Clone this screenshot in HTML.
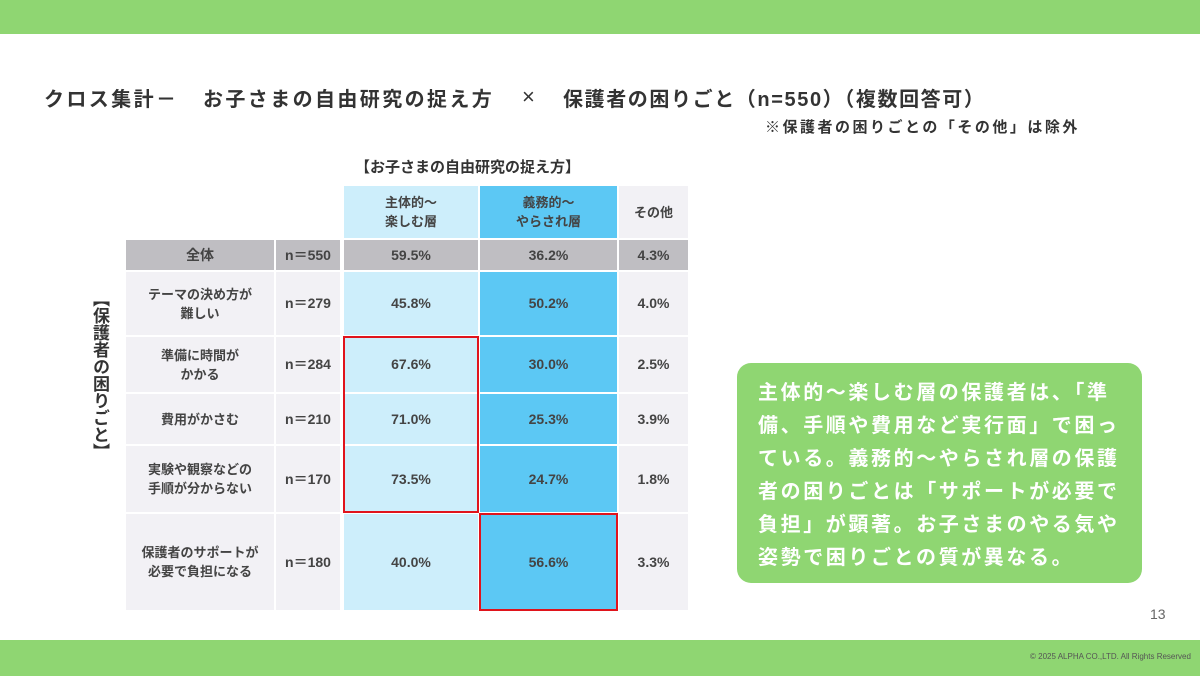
<!DOCTYPE html>
<html><head><meta charset="utf-8">
<style>
body{margin:0;width:1200px;height:676px;position:relative;background:#fff;overflow:hidden;font-family:"Liberation Sans","Noto Sans CJK JP",sans-serif;}
.abs{position:absolute;box-sizing:border-box;}
.cell{position:absolute;display:flex;align-items:center;justify-content:center;text-align:center;font-size:14px;font-weight:bold;color:#444;line-height:19px;}
.tt{position:absolute;top:83px;font-size:20px;font-weight:bold;color:#333;white-space:nowrap;letter-spacing:2.4px}
</style></head><body>
<div class="abs" style="left:0;top:0;width:1200px;height:34px;background:#8fd672"></div>
<div class="abs" style="left:0;top:640px;width:1200px;height:36px;background:#8fd672"></div>
<div class="abs" style="left:1030px;top:652px;font-size:8px;color:#555">© 2025 ALPHA CO.,LTD. All Rights Reserved</div>
<div class="abs" style="left:1150px;top:606px;font-size:14px;color:#666">13</div>
<div>
<span class="tt" style="left:44px">クロス集計－</span>
<span class="tt" style="left:203px">お子さまの自由研究の捉え方</span>
<span class="tt" style="left:522px;top:84px;font-family:'Liberation Sans',sans-serif;font-size:22px;font-weight:normal">×</span>
<span class="tt" style="left:563px;letter-spacing:1.6px">保護者の困りごと（n=550）（複数回答可）</span>
</div>
<div class="abs" style="left:765px;top:116px;font-size:15px;font-weight:bold;color:#333;letter-spacing:2.5px;white-space:nowrap">※保護者の困りごとの「その他」は除外</div>
<div class="abs" style="left:355px;top:156px;font-size:15px;font-weight:bold;color:#333">【お子さまの自由研究の捉え方】</div>
<div class="abs" style="left:88px;top:290px;width:24px;font-size:17px;font-weight:bold;color:#333;writing-mode:vertical-rl">【保護者の困りごと】</div>
<div id="tbl"></div>
<div class="abs" style="left:737px;top:363px;width:405px;height:220px;background:#8fd672;border-radius:14px;padding:14px 0 0 21px;color:#fff;font-size:20px;font-weight:bold;line-height:33px;letter-spacing:2.6px;white-space:nowrap">主体的〜楽しむ層の保護者は、「準<br>備、手順や費用など実行面」で困っ<br>ている。義務的〜やらされ層の保護<br>者の困りごとは「サポートが必要で<br>負担」が顕著。お子さまのやる気や<br>姿勢で困りごとの質が異なる。</div>
<script>
const headers=["主体的〜<br>楽しむ層","義務的〜<br>やらされ層","その他"];
const rowLabels=["全体","テーマの決め方が<br>難しい","準備に時間が<br>かかる","費用がかさむ","実験や観察などの<br>手順が分からない","保護者のサポートが<br>必要で負担になる"];
const nValues=[550,279,284,210,170,180];
const seriesActive=[59.5,45.8,67.6,71.0,73.5,40.0];
const seriesDuty=[36.2,50.2,30.0,25.3,24.7,56.6];
const seriesOther=[4.3,4.0,2.5,3.9,1.8,3.3];
const colX=[126,276,344,480,619], colW=[148,64,134,137,69];
const rowY=[240,272,337,394,446,514], rowH=[30,63,55,50,66,96];
const bg=["#f2f1f5","#f2f1f5","#cdeefb","#5cc8f4","#f2f1f5"];
const t=document.getElementById('tbl');
function cell(x,y,w,h,html,color,name){const d=document.createElement('div');d.className='cell';d.style.cssText=`left:${x}px;top:${y}px;width:${w}px;height:${h}px;background:${color}`;d.innerHTML=html;


t.appendChild(d);return d;}
headers.forEach((h,i)=>cell(colX[i+2],186,colW[i+2],52,h,bg[i+2],'header-'+i).style.fontSize='13px');
rowLabels.forEach((l,r)=>{
 const g=r===0;
 const vals=[l,'n＝'+nValues[r],seriesActive[r].toFixed(1)+'%',seriesDuty[r].toFixed(1)+'%',seriesOther[r].toFixed(1)+'%'];
 vals.forEach((v,c)=>cell(colX[c],rowY[r],colW[c],rowH[r],v,g?'#bfbec2':bg[c],'cell-r'+r+'-c'+c).style.fontSize=(c==0&&!g)?'13px':'14px');
});
function box(c,r0,r1,name){const d=document.createElement('div');d.className='abs';
d.style.cssText=`left:${colX[c]-1}px;top:${rowY[r0]-1}px;width:${colW[c]+2}px;height:${rowY[r1]+rowH[r1]-rowY[r0]+2}px;border:2px solid #e0141c`;


t.appendChild(d);}
box(2,2,4,'highlight-active');box(3,5,5,'highlight-duty');
</script>
</body></html>
